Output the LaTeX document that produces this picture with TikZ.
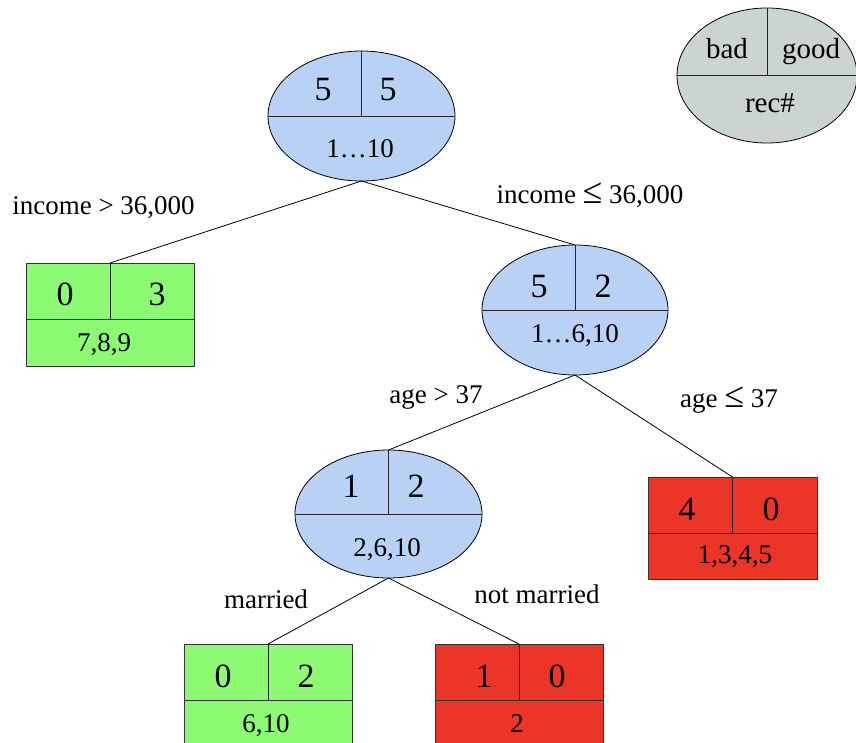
\documentclass[tikz,border=0pt]{standalone}
\usepackage{fontspec}
\setmainfont{Liberation Serif}
\usetikzlibrary{shapes.geometric}
\definecolor{nodeblue}{RGB}{185,209,245}
\definecolor{leafgreen}{RGB}{140,250,115}
\definecolor{leafred}{RGB}{234,53,39}
\definecolor{legendgray}{RGB}{203,211,211}
\newcommand{\bigleq}{{\fontsize{36}{36}\selectfont ≤}}
\tikzset{
  ell/.style={ellipse, draw=black, line width=0.8pt, fill=nodeblue, inner sep=0pt, outer sep=0pt},
  boxtop/.style={rectangle, draw=black!80, line width=0.8pt, inner sep=0pt, outer sep=0pt, minimum width=168pt, minimum height=56pt},
  boxbot/.style={rectangle, draw=black!80, line width=0.8pt, inner sep=0pt, outer sep=0pt, minimum width=168pt, minimum height=46pt},
  divider/.style={line width=0.8pt, draw=black!85},
  conn/.style={line width=0.8pt, draw=black},
  bignum/.style={anchor=base, inner sep=0pt, font=\fontsize{34}{36}\selectfont},
  rectext/.style={anchor=base, inner sep=0pt, font=\fontsize{27}{30}\selectfont},
  legtext/.style={anchor=base, inner sep=0pt, font=\fontsize{29}{32}\selectfont},
  lbl/.style={anchor=base, inner sep=0pt, font=\fontsize{27}{30}\selectfont},
}
\begin{document}
\begin{tikzpicture}[x=1pt,y=-1pt]
\useasboundingbox (0,0) rectangle (856,742);
\clip (0,0) rectangle (856,742);
\fill[white] (0,0) rectangle (856,742);

% legend
\node[ell, fill=legendgray, minimum width=180pt, minimum height=135pt] (leg) at (767,75.5) {};
\draw[divider] (leg.west) -- (leg.east);
\draw[divider] (leg.north) -- (leg.center);
\node[legtext] (legbad) at (727,58) {bad};
\node[legtext] (leggood) at (811,58) {good};
\node[legtext] (legrec) at (770,112) {rec\#};

% root
\node[ell, minimum width=187pt, minimum height=130pt] (root) at (361.5,116) {};
\draw[divider] (root.west) -- (root.east);
\draw[divider] (root.north) -- (root.center);
\node[bignum] (rootl) at (323,100) {5};
\node[bignum] (rootr) at (388,100) {5};
\node[rectext] (rootrec) at (360,157) {1…10};

% leaf 1 (green)
\node[boxtop, fill=leafgreen, anchor=north] (b1t) at (110,263) {};
\node[boxbot, fill=leafgreen, anchor=north, minimum height=47pt] (b1b) at (b1t.south) {};
\draw[divider] (b1t.north) -- (b1t.south);
\node[bignum] (b1l) at (65,305) {0};
\node[bignum] (b1r) at (157,305) {3};
\node[rectext] (b1rec) at (104,351) {7,8,9};

% node 2
\node[ell, minimum width=186pt, minimum height=130pt] (e2) at (575,310) {};
\draw[divider] (e2.west) -- (e2.east);
\draw[divider] (e2.north) -- (e2.center);
\node[bignum] (e2l) at (539,297) {5};
\node[bignum] (e2r) at (603,297) {2};
\node[rectext] (e2rec) at (575,342) {1…6,10};

% leaf red 1
\node[boxtop, fill=leafred, anchor=north, minimum width=169pt] (r1t) at (732.5,477) {};
\node[boxbot, fill=leafred, anchor=north, minimum width=169pt] (r1b) at (r1t.south) {};
\draw[divider] (r1t.north) -- (r1t.south);
\node[bignum] (r1l) at (687,520) {4};
\node[bignum] (r1r) at (771,520) {0};
\node[rectext] (r1rec) at (735,563) {1,3,4,5};

% node 3
\node[ell, minimum width=187pt, minimum height=128pt] (e3) at (388.5,514) {};
\draw[divider] (e3.west) -- (e3.east);
\draw[divider] (e3.north) -- (e3.center);
\node[bignum] (e3l) at (351,497) {1};
\node[bignum] (e3r) at (416,497) {2};
\node[rectext] (e3rec) at (387,556) {2,6,10};

% leaf green 2
\node[boxtop, fill=leafgreen, anchor=north] (g2t) at (268,644) {};
\node[boxbot, fill=leafgreen, anchor=north] (g2b) at (g2t.south) {};
\draw[divider] (g2t.north) -- (g2t.south);
\node[bignum] (g2l) at (223,687) {0};
\node[bignum] (g2r) at (306,687) {2};
\node[rectext] (g2rec) at (266,732) {6,10};

% leaf red 2
\node[boxtop, fill=leafred, anchor=north] (r2t) at (519,644) {};
\node[boxbot, fill=leafred, anchor=north] (r2b) at (r2t.south) {};
\draw[divider] (r2t.north) -- (r2t.south);
\node[bignum] (r2l) at (484,687) {1};
\node[bignum] (r2r) at (557,687) {0};
\node[rectext] (r2rec) at (517,732) {2};

% connectors
\draw[conn] (root.south) -- (b1t.north);
\draw[conn] (root.south) -- (e2.north);
\draw[conn] (e2.south) -- (e3.north);
\draw[conn] (e2.south) -- (r1t.north);
\draw[conn] (e3.south) -- (g2t.north);
\draw[conn] (e3.south) -- (r2t.north);

% labels
\node[lbl] (l1) at (103.5,214) {income > 36,000};
\node[lbl] (l2) at (590,203) {income \bigleq{} 36,000};
\node[lbl] (l3) at (436,403) {age > 37};
\node[lbl] (l4) at (729,407) {age \bigleq{} 37};
\node[lbl] (l5) at (266,608) {married};
\node[lbl] (l6) at (537,603) {not married};
\end{tikzpicture}
\end{document}
